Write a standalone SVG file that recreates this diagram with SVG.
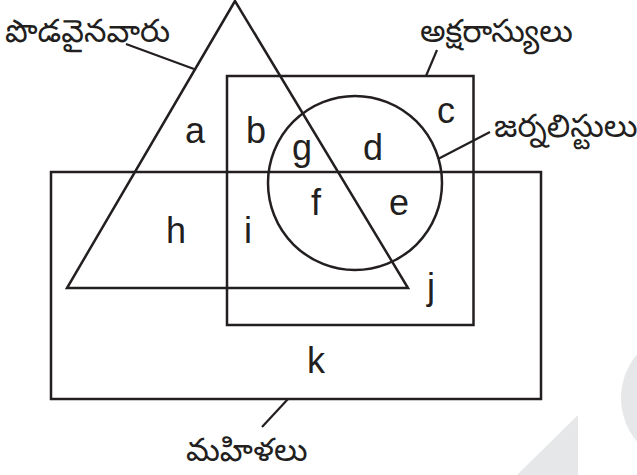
<svg xmlns="http://www.w3.org/2000/svg" width="637" height="475" viewBox="0 0 637 475">
<style>
.ln{fill:none;stroke:#231f20;stroke-width:2.5}
.ld{fill:none;stroke:#231f20;stroke-width:2.2}
.lt{font-family:"Liberation Sans",Arial,sans-serif;font-size:36px;fill:#231f20;text-anchor:middle}
.tl{font-family:"Noto Sans Telugu","Noto Sans","DejaVu Sans",sans-serif;font-size:32px;fill:#231f20}
.wm{fill:#e6e7e8;stroke:none}
</style>
<rect width="637" height="475" fill="#fff"/>
<g id="watermark">
<polygon class="wm" points="578,415 578,475 517,475"/>
<circle class="wm" cx="688" cy="398" r="67"/>
</g>
<g id="womens">
<rect class="ln" x="51" y="172" width="490" height="227"/>
<text class="tl" x="186" y="461">మహిళలు</text>
</g>
<g id="literates">
<rect class="ln" x="227" y="76" width="246.5" height="249"/>
<text class="tl" x="420" y="42">అక్షరాస్యులు</text>
</g>
<g id="tall">
<polygon class="ln" points="235,1 67,288 408,288" stroke-linejoin="miter"/>
<text class="tl" x="5" y="42">పొడవైనవారు</text>
</g>
<g id="journalists">
<circle class="ln" cx="355" cy="183" r="87"/>
<text class="tl" x="494" y="137">జర్నలిస్టులు</text>
</g>
<g id="connectors">
<line class="ld" x1="126" y1="44" x2="194" y2="69"/>
<line class="ld" x1="437" y1="50" x2="426" y2="76"/>
<line class="ld" x1="490" y1="132" x2="438" y2="159"/>
<line class="ld" x1="288" y1="399" x2="262" y2="427"/>
</g>
<g id="regions">
<text class="lt" x="195" y="143">a</text>
<text class="lt" x="256" y="143">b</text>
<text class="lt" x="446" y="123">c</text>
<text class="lt" x="373" y="160">d</text>
<text class="lt" x="399" y="215">e</text>
<text class="lt" x="316" y="215">f</text>
<text class="lt" x="302" y="160">g</text>
<text class="lt" x="176" y="243">h</text>
<text class="lt" x="248" y="243">i</text>
<text class="lt" x="431" y="299">j</text>
<text class="lt" x="316" y="373">k</text>
</g>
</svg>
